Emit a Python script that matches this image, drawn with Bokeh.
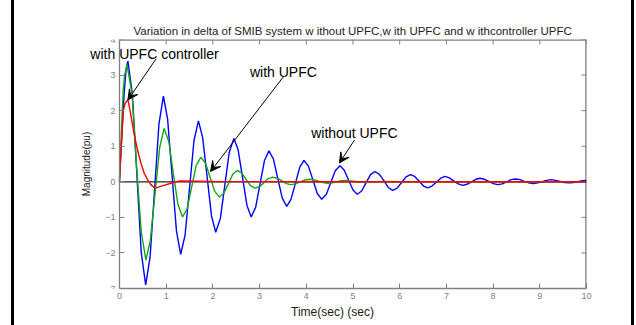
import math
from bokeh.plotting import figure
from bokeh.layouts import row
from bokeh.models import Range1d, Arrow, VeeHead, Label, FixedTicker, Spacer
from bokeh.embed import file_html
from bokeh.resources import INLINE

# ---------------- data ----------------
x_ticks = [0, 1, 2, 3, 4, 5, 6, 7, 8, 9, 10]
y_ticks = [-3, -2, -1, 0, 1, 2, 3, 4]

zero_t = [0, 10]
zero_v = [0, 0]

# without UPFC (blue)
blue_t = [0, 0.05, 0.10, 0.14, 0.18, 0.275, 0.37, 0.465, 0.56, 0.655, 0.75, 0.845, 0.94,
          1.03, 1.125, 1.22, 1.31, 1.405, 1.5, 1.595, 1.69, 1.78, 1.875, 1.97, 2.06,
          2.16, 2.255, 2.35, 2.45, 2.54, 2.635, 2.73, 2.82, 2.915, 3.01, 3.105, 3.2,
          3.295, 3.39, 3.485, 3.58, 3.67, 3.765, 3.86, 3.95, 4.045, 4.14, 4.235, 4.33,
          4.43, 4.525, 4.62, 4.72, 4.81, 4.905, 5.0, 5.09, 5.185, 5.28, 5.375, 5.47,
          5.565, 5.66, 5.755, 5.85, 5.945, 6.04, 6.135, 6.23, 6.32, 6.415, 6.51, 6.6,
          6.69, 6.785, 6.88, 6.97, 7.065, 7.16, 7.255, 7.35, 7.44, 7.535, 7.63, 7.72,
          7.815, 7.91, 8.005, 8.1, 8.195, 8.29, 8.385, 8.48, 8.575, 8.67, 8.765, 8.86,
          8.955, 9.05, 9.145, 9.24, 9.34, 9.435, 9.53, 9.63, 9.72, 9.815, 9.91, 10.0]
blue_v = [0, 1.3, 2.5, 3.15, 3.39, 2.47, 0.25, -1.98, -2.9, -2.12, -0.25, 1.63, 2.41,
          1.76, 0.19, -1.39, -2.04, -1.49, -0.17, 1.16, 1.71, 1.25, 0.15, -0.96, -1.42,
          -1.03, -0.1, 0.83, 1.22, 0.9, 0.12, -0.67, -0.99, -0.72, -0.06, 0.6, 0.87,
          0.64, 0.09, -0.46, -0.69, -0.5, -0.05, 0.41, 0.6, 0.44, 0.06, -0.33, -0.49,
          -0.35, -0.02, 0.31, 0.45, 0.33, 0.05, -0.23, -0.35, -0.26, -0.03, 0.2, 0.29,
          0.21, 0.03, -0.16, -0.24, -0.18, -0.02, 0.14, 0.2, 0.15, 0.02, -0.12, -0.17,
          -0.12, -0.01, 0.1, 0.15, 0.11, 0.02, -0.06, -0.1, -0.07, 0.0, 0.07, 0.1,
          0.07, 0.01, -0.05, -0.08, -0.06, 0.0, 0.06, 0.08, 0.06, 0.01, -0.03, -0.05,
          -0.03, 0.0, 0.04, 0.06, 0.04, 0.01, -0.02, -0.03, -0.02, 0.0, 0.03, 0.04]

# with UPFC (green)
green_t = [0, 0.04, 0.08, 0.11, 0.16, 0.27, 0.37, 0.465, 0.565, 0.66, 0.76, 0.86, 0.955,
           1.055, 1.15, 1.25, 1.35, 1.45, 1.545, 1.64, 1.74, 1.84, 1.94, 2.04, 2.14,
           2.235, 2.33, 2.425, 2.52, 2.615, 2.71, 2.805, 2.9, 2.995, 3.09, 3.185, 3.28,
           3.375, 3.475, 3.57, 3.67, 3.77, 3.87, 3.97, 4.07, 4.17, 4.265, 4.36, 4.46,
           4.56, 4.655, 4.75, 4.85, 5.05, 5.25, 5.45, 5.65, 6.0, 10.0]
green_v = [0, 1.4, 2.6, 3.0, 3.3, 2.45, 0.35, -1.4, -2.2, -1.66, -0.35, 0.96, 1.5,
           1.14, 0.26, -0.63, -0.99, -0.75, -0.15, 0.45, 0.69, 0.53, 0.13, -0.27, -0.43,
           -0.32, -0.06, 0.21, 0.32, 0.25, 0.07, -0.11, -0.18, -0.14, -0.03, 0.09, 0.13,
           0.1, 0.03, -0.05, -0.08, -0.06, 0.0, 0.05, 0.07, 0.05, 0.02, -0.02, -0.04,
           -0.03, 0.0, 0.03, 0.04, 0.01, -0.02, 0.0, 0.01, 0.0, 0.0]

# with UPFC controller (red)
red_t = [0, 0.08, 0.12, 0.18, 0.24, 0.31, 0.385, 0.46, 0.53, 0.6, 0.67, 0.76, 0.9,
         1.1, 1.28, 2.0, 4.0, 10.0]
red_v = [0.1, 2.0, 2.2, 2.32, 1.9, 1.36, 0.9, 0.52, 0.24, 0.06, -0.08, -0.18, -0.12,
         -0.04, 0.02, 0.01, 0.0, 0.0]

ann_text = ["with UPFC controller", "with UPFC", "without UPFC"]
ann_text_x = [0.75, 3.51, 5.03]
ann_text_y = [3.58, 3.10, 1.38]
arrow_x0 = [0.78, 3.52, 5.03]
arrow_y0 = [3.45, 2.97, 1.17]
arrow_x1 = [0.18, 1.95, 4.71]
arrow_y1 = [2.30, 0.29, 0.53]

TITLE = "Variation in delta of  SMIB system w ithout UPFC,w ith UPFC and w ithcontroller UPFC"
FONT = "Liberation Sans"
GRAY = "#808080"
X_PAD = 0.878   # blank room left of t=0 inside the frame, so the left annotation is not clipped

p = figure(width=617, height=325, output_backend="svg", toolbar_location=None,
           x_range=Range1d(x_ticks[0] - X_PAD, x_ticks[-1]),
           y_range=Range1d(y_ticks[0], y_ticks[-1]),
           min_border_left=64, min_border_right=45, min_border_top=39, min_border_bottom=37,
           title=TITLE)
p.background_fill_color = "white"
p.border_fill_color = "white"
p.outline_line_color = None
p.grid.visible = False

p.title.align = "left"
p.title.offset = 55
p.title.text_font = FONT
p.title.text_font_size = "11.5px"
p.title.text_font_style = "normal"
p.title.text_color = "#222222"
p.title.standoff = 6

def style_axis(ax):
    ax.major_tick_in = 5
    ax.major_tick_out = 0
    ax.minor_tick_line_color = None
    ax.axis_line_color = GRAY
    ax.axis_line_width = 1.3
    ax.major_tick_line_color = GRAY
    ax.major_label_text_color = GRAY
    ax.major_label_text_font = FONT
    ax.major_label_text_font_size = "9px"
    ax.axis_label_text_font = FONT
    ax.axis_label_text_font_style = "normal"
    ax.axis_label_text_color = "#1a1a1a"

p.xaxis.ticker = FixedTicker(ticks=x_ticks)
p.yaxis.ticker = FixedTicker(ticks=y_ticks)
style_axis(p.xaxis[0])
style_axis(p.yaxis[0])
p.xaxis.bounds = (x_ticks[0], x_ticks[-1])
p.yaxis.fixed_location = x_ticks[0]
p.xaxis.axis_label = "Time(sec) (sec)"
p.xaxis.axis_label_text_font_size = "12px"
p.xaxis.axis_label_standoff = 3
p.xaxis.major_label_standoff = 4
p.yaxis.axis_label = "Magnitude(pu)"
p.yaxis.axis_label_text_font_size = "10px"
p.yaxis.axis_label_standoff = 10
p.yaxis.major_label_standoff = 4

# top and right sides of the box, with mirrored inward ticks
p.line([x_ticks[0], x_ticks[-1]], [y_ticks[-1], y_ticks[-1]], line_color=GRAY, line_width=2.6)
p.line([x_ticks[-1], x_ticks[-1]], [y_ticks[0], y_ticks[-1]], line_color=GRAY, line_width=2.6)
p.ray(x=x_ticks, y=[y_ticks[-1]] * len(x_ticks), length=5, length_units="screen",
      angle=-math.pi / 2, line_color=GRAY, line_width=1)
p.ray(x=[x_ticks[-1]] * len(y_ticks), y=y_ticks, length=5, length_units="screen",
      angle=math.pi, line_color=GRAY, line_width=1)

p.line(zero_t, zero_v, line_color="#202020", line_width=1.3)
p.line(blue_t, blue_v, line_color="#0000ff", line_width=1.4)
p.line(green_t, green_v, line_color="#12a812", line_width=1.4)
p.line(red_t, red_v, line_color="#ff0000", line_width=1.4)

for i in range(len(ann_text)):
    p.add_layout(Arrow(end=VeeHead(size=10, fill_color="black", line_color="black"),
                       x_start=arrow_x0[i], y_start=arrow_y0[i],
                       x_end=arrow_x1[i], y_end=arrow_y1[i],
                       line_color="black", line_width=1))
    p.add_layout(Label(x=ann_text_x[i], y=ann_text_y[i], text=ann_text[i],
                       text_align="center", text_baseline="middle",
                       text_font=FONT, text_font_size="14px", text_color="black"))

gap = Spacer(width=11, height=325)
bar_l = Spacer(width=3, height=325, styles={"background-color": "black"})
bar_r = Spacer(width=3, height=325, styles={"background-color": "black"})
layout = row(gap, bar_l, p, bar_r, spacing=0)

open("out.html", "w").write(file_html(layout, INLINE))
